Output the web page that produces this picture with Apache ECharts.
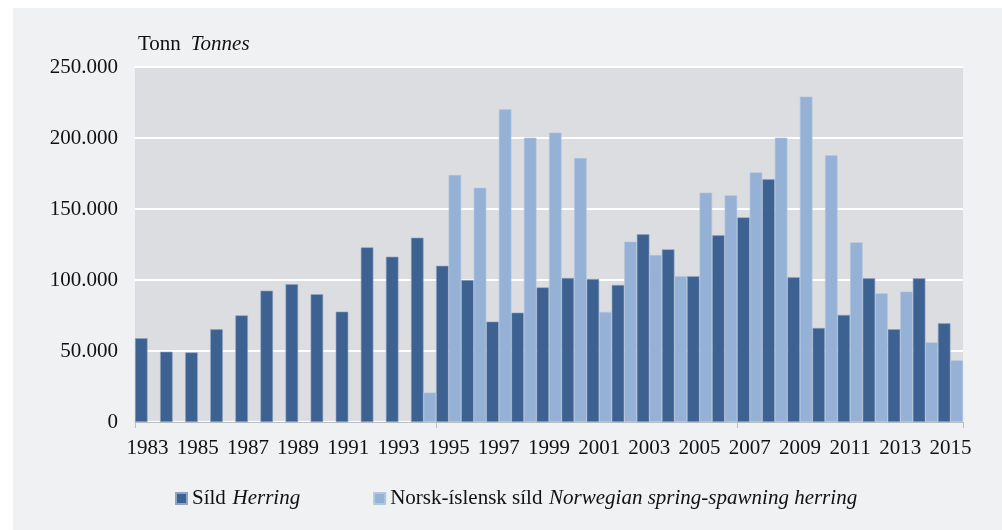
<!DOCTYPE html>
<html>
<head>
<meta charset="utf-8">
<script src="https://cdn.jsdelivr.net/npm/echarts@6/dist/echarts.min.js"></script>
<style>
  html, body { margin: 0; padding: 0; background: #ffffff; }
  #chart { width: 1002px; height: 530px; }
</style>
</head>
<body>
<div id="chart"></div>
<script>
// years on the x axis
const years = [];
for (let y = 1983; y <= 2015; y++) years.push(String(y));

// Síld / Herring (tonnes)
const herring = [59000, 49500, 49000, 65300, 75100, 92500, 97000, 90000, 77700, 123000, 116400,
  129800, 110000, 100000, 70700, 77000, 94800, 101400, 100700, 96500, 132200, 121600,
  102600, 131500, 144100, 170900, 101900, 66200, 75400, 101200, 65300, 101200, 69500];

// Norsk-íslensk síld / Norwegian spring-spawning herring (tonnes)
const nssHerring = ['-', '-', '-', '-', '-', '-', '-', '-', '-', '-', '-',
  20700, 174000, 165000, 220200, 200200, 203800, 185900, 77500, 127000, 117600, 102600,
  161500, 159600, 175800, 200200, 229100, 187800, 126500, 90600, 91800, 56100, 43400];

const yTicks = [0, 50000, 100000, 150000, 200000, 250000];

window.addEventListener("load", () => {
  let chart = echarts.init(document.getElementById("chart"), null, { renderer: 'canvas' });

  const serif = 'Liberation Serif';
  const richText = {
    a: { fontFamily: serif, fontSize: 21, fontWeight: 'normal', color: '#111' },
    b: { fontFamily: serif, fontSize: 21, fontWeight: 'normal', fontStyle: 'italic', color: '#111' }
  };

  let option = {
    backgroundColor: '#ffffff',
    animation: false,
    graphic: [
      { type: 'rect', left: 13, top: 8, shape: { width: 989, height: 522 }, style: { fill: '#f0f1f3' }, z: -10 }
    ],
    title: {
      text: '{a|Tonn}  {b|Tonnes}',
      left: 133, top: 29,
      textStyle: { fontWeight: 'normal', rich: richText }
    },
    legend: {
      top: 483,
      left: 170,
      itemGap: 73,
      icon: 'rect',
      itemWidth: 11,
      itemHeight: 11,
      data: ['Síld', 'Norsk-íslensk síld'],
      formatter: function (name) {
        if (name === 'Síld') return '{a|Síld}  {b|Herring}';
        return '{a|Norsk-íslensk síld}  {b|Norwegian spring-spawning herring}';
      },
      textStyle: { rich: richText }
    },
    grid: {
      left: 135, right: 39, top: 67, bottom: 108,
      show: true, backgroundColor: '#dcdde0', borderWidth: 0
    },
    xAxis: {
      type: 'category',
      data: years,
      boundaryGap: true,
      axisLine: { lineStyle: { color: '#b9bdc4', width: 1 } },
      axisTick: { show: true, interval: 11, length: 6, lineStyle: { color: '#b9bdc4' } },
      axisLabel: { interval: 1, margin: 16, fontFamily: serif, fontSize: 21, color: '#111' }
    },
    yAxis: {
      type: 'value',
      min: 0, max: 250000, interval: 50000,
      axisLine: { show: false },
      axisTick: { show: false },
      splitLine: { lineStyle: { color: '#ffffff', width: 2 } },
      axisLabel: {
        margin: 17, fontFamily: serif, fontSize: 21, color: '#111',
        formatter: function (v) {
          if (!yTicks.includes(v)) return '';
          return v === 0 ? '0' : (v / 1000).toFixed(0) + '.000';
        }
      }
    },
    series: [
      {
        name: 'Síld', type: 'bar', data: herring,
        barGap: '0%', barCategoryGap: '0%',
        itemStyle: { color: '#3d6191', borderColor: '#8fa4c2', borderWidth: 0.6 }
      },
      {
        name: 'Norsk-íslensk síld', type: 'bar', data: nssHerring,
        barGap: '0%', barCategoryGap: '0%',
        itemStyle: { color: '#95b1d5', borderColor: '#b3c6df', borderWidth: 0.6 }
      }
    ]
  };

  chart.setOption(option);
  window.addEventListener('resize', chart.resize);
});
</script>
</body>
</html>
